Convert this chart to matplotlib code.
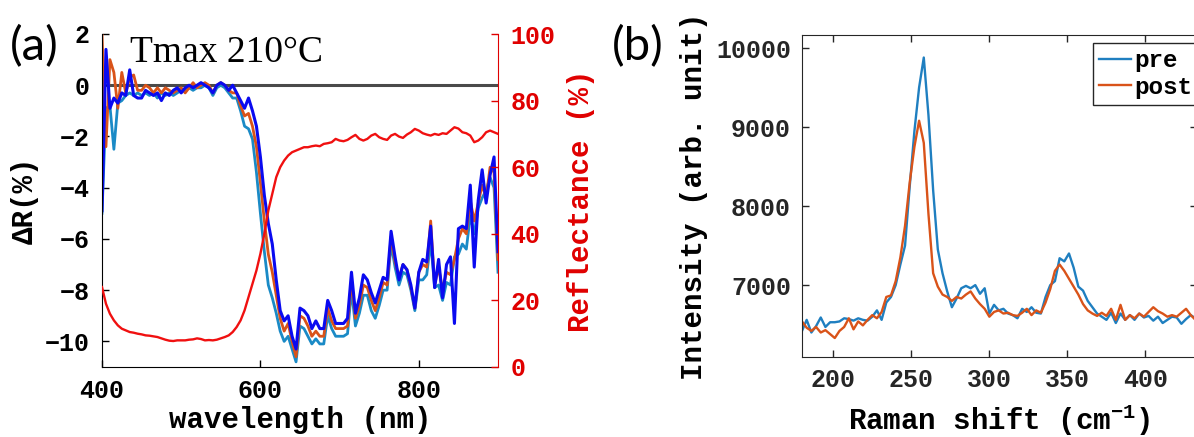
import matplotlib
matplotlib.use("Agg")
import matplotlib.pyplot as plt
import numpy as np

# ---- panel (a): differential reflectance spectra ----
wavelength = np.arange(400, 905, 5)

dr_light = [-5.0, -0.9, -0.8, -2.5, -0.7, -0.6, -0.4, -0.3, -0.4, -0.3,
            -0.4, -0.3, -0.4, -0.3, -0.5, -0.3, -0.4, -0.3, -0.4, -0.3,
            -0.2, -0.2, -0.1, -0.2, -0.1, -0.1, 0.0, -0.1, -0.4, -0.1,
            0.0, -0.1, -0.3, -0.5, -0.5, -1.0, -1.6, -1.7, -2.1, -3.4,
            -5.0, -6.5, -7.8, -8.3, -8.9, -9.6, -10.0, -9.8, -10.3, -10.8,
            -9.4, -9.5, -9.8, -10.1, -9.9, -10.1, -10.1, -9.0, -9.5, -9.8,
            -9.8, -9.8, -9.7, -8.0, -9.4, -8.9, -8.2, -8.2, -8.8, -9.1,
            -8.6, -8.0, -8.0, -6.2, -7.1, -7.8, -7.3, -7.4, -8.0, -8.8,
            -7.6, -7.6, -7.4, -6.1, -7.9, -7.8, -8.4, -7.7, -7.8, -6.7,
            -6.6, -6.2, -6.4, -5.1, -5.8, -4.8, -4.4, -4.1, -3.6, -4.0,
            -7.3]

dr_orange = [2.0, -2.4, 1.0, 0.5, -0.9, 0.5, -0.3, 0.3, 0.4, -0.2,
             -0.2, 0.0, -0.1, -0.3, -0.1, -0.3, -0.1, -0.2, -0.3, -0.2,
             -0.1, -0.3, -0.1, 0.1, -0.1, 0.0, 0.1, 0.0, -0.3, 0.0,
             0.1, 0.0, -0.2, -0.3, -0.3, -0.8, -1.2, -1.1, -1.6, -2.4,
             -3.8, -5.3, -6.6, -7.3, -8.2, -9.1, -9.6, -9.3, -10.0, -10.6,
             -9.0, -9.1, -9.4, -9.8, -9.6, -9.8, -9.8, -8.7, -9.2, -9.5,
             -9.5, -9.5, -9.4, -7.6, -9.1, -8.6, -7.8, -7.9, -8.4, -8.8,
             -8.3, -7.7, -7.8, -5.9, -6.9, -7.5, -7.0, -7.2, -7.9, -8.7,
             -7.3, -7.0, -7.1, -5.3, -7.8, -7.1, -8.0, -7.3, -7.4, -6.8,
             -6.0, -5.6, -5.8, -4.5, -5.3, -4.6, -3.9, -4.4, -3.2, -3.4,
             -6.8]

dr_dark = [-4.9, 1.4, -0.9, -0.5, -0.7, -0.3, -0.4, 0.6, -0.4, -0.5,
           -0.5, -0.2, -0.3, -0.4, -0.3, -0.6, -0.3, -0.4, -0.2, -0.1,
           -0.3, -0.1, 0.0, -0.1, 0.0, 0.1, 0.0, -0.1, -0.3, 0.0,
           0.1, 0.0, -0.2, 0.0, -0.3, -0.6, -0.9, -0.5, -1.0, -1.6,
           -2.8, -4.3, -5.4, -6.2, -7.6, -8.8, -9.2, -9.0, -9.8, -10.3,
           -8.7, -8.8, -9.0, -9.5, -9.2, -9.5, -9.5, -8.4, -8.8, -9.3,
           -9.3, -9.3, -9.1, -7.3, -8.9, -8.3, -7.4, -7.6, -8.1, -8.5,
           -8.0, -7.5, -7.6, -5.7, -6.7, -7.6, -7.0, -7.2, -7.8, -8.7,
           -7.3, -6.8, -6.9, -5.5, -7.9, -6.8, -8.3, -7.0, -6.7, -9.3,
           -5.6, -5.5, -5.6, -3.9, -7.1, -4.5, -3.3, -4.6, -3.5, -2.8,
           -6.5]

reflectance = [24, 19, 16, 14, 12.5, 11.5, 11, 10.5, 10.3, 10,
               9.8, 9.5, 9.4, 9.2, 9.0, 8.6, 8.2, 7.9, 7.8, 8.0,
               8.0, 8.0, 8.2, 8.3, 8.6, 8.4, 8.0, 8.1, 8.0, 8.2,
               8.6, 9.0, 9.5, 10.5, 12, 14, 17, 21, 25, 29,
               34, 40, 47, 52, 57, 60, 62, 63.5, 64.5, 65,
               65.5, 66, 66, 66.3, 66.5, 66.3, 67, 67.2, 67.5, 68.5,
               68, 67.8, 68.2, 69, 69.7, 68.5, 68, 68.5, 69.5, 70,
               69, 68.5, 68.2, 69.5, 70, 69.2, 68.8, 69.8, 70.5, 71.5,
               71, 70.2, 69.8, 69.5, 70, 69.7, 70.2, 70, 71, 72,
               71.6, 70.5, 70.2, 69.5, 67.5, 68, 69, 70.5, 71, 70.5,
               70]

# ---- panel (b): Raman spectra ----
raman_shift = np.arange(180, 453, 3)

pre = [6420, 6560, 6400, 6480, 6590, 6470, 6530, 6530, 6540, 6580,
       6570, 6550, 6580, 6560, 6550, 6600, 6680, 6560, 6780, 6850,
       7000, 7260, 7500, 8250, 8950, 9500, 9880, 9150, 8200, 7450,
       7150, 6920, 6720, 6830, 6960, 6990, 6960, 7000, 6890, 6960,
       6640, 6750, 6680, 6700, 6640, 6620, 6580, 6700, 6660, 6720,
       6650, 6640, 6850, 7000, 7050, 7340, 7300, 7400, 7220, 6980,
       6930, 6800, 6720, 6640, 6600, 6560, 6650, 6520, 6640, 6560,
       6620, 6560, 6640, 6590, 6610, 6550, 6600, 6520, 6560, 6600,
       6590, 6510, 6570, 6620, 6580, 6560, 6610, 6560, 6600, 6580,
       6600]

post = [6540, 6460, 6420, 6470, 6400, 6430, 6380, 6330, 6420, 6470,
        6580, 6440, 6540, 6490, 6560, 6620, 6580, 6660, 6850, 6870,
        7050, 7350, 7750, 8300, 8750, 9080, 8800, 7900, 7150, 6980,
        6880, 6850, 6800, 6850, 6830, 6880, 6920, 6830, 6760, 6700,
        6600, 6660, 6680, 6640, 6650, 6620, 6610, 6650, 6700, 6620,
        6680, 6650, 6780, 6950, 7180, 7260, 7180, 7080, 6980, 6880,
        6760, 6680, 6640, 6610, 6650, 6610, 6700, 6560, 6750, 6560,
        6620, 6580, 6640, 6600, 6660, 6720, 6670, 6640, 6600, 6620,
        6600, 6650, 6700, 6620, 6560, 6600, 6650, 6610, 6620, 6600,
        6620]

plt.rcParams['font.family'] = ['Liberation Mono', 'DejaVu Sans Mono']
plt.rcParams['font.weight'] = 'bold'
plt.rcParams['axes.labelweight'] = 'bold'
plt.rcParams['mathtext.default'] = 'regular'

W, H = 1194, 437
fig = plt.figure(figsize=(W / 100, H / 100), dpi=100)

# panel (a)
ax1 = fig.add_axes([102 / W, 70 / H, 396 / W, 333 / H])
ax1.axhline(0, color='#4a4a4a', lw=2.2, zorder=1)
ax1.plot(wavelength, dr_light, color='#1a8ac6', lw=2.0)
ax1.plot(wavelength, dr_orange, color='#d95319', lw=2.0)
ax1.plot(wavelength, dr_dark, color='#0a0af0', lw=2.2)
ax1.set_xlim(400, 900)
ax1.set_ylim(-11, 2)
ax1.set_xticks([400, 600, 800])
ax1.set_yticks(range(-10, 3, 2))
ax1.tick_params(direction='in', length=5, width=1, labelsize=18, pad=9)
ax1.spines['top'].set_visible(False)
ax1.spines['right'].set_visible(False)
ax1.set_xlabel('wavelength (nm)', fontsize=21, labelpad=2)
ax1.set_ylabel('ΔR(%)', fontsize=21, labelpad=4)

ax2 = ax1.twinx()
ax2.plot(wavelength, reflectance, color='#f01010', lw=1.7)
ax2.set_ylim(0, 100)
ax2.set_yticks(range(0, 101, 20))
ax2.tick_params(direction='in', length=5, width=1, labelsize=18, pad=9,
                colors='#e00000')
for s in ['top', 'left', 'bottom']:
    ax2.spines[s].set_visible(False)
ax2.spines['right'].set_color('#e00000')
ax2.set_ylabel('Reflectance (%)', fontsize=21, color='#e00000', labelpad=8)

fig.text(10 / W, 1 - 47 / H, '(a)', fontsize=34, family='Lato',
         weight='normal', va='center')
fig.text(130 / W, 1 - 62 / H, 'Tmax 210°C', fontsize=27,
         family='Liberation Serif', weight='normal', va='baseline')

# panel (b)
ax3 = fig.add_axes([802 / W, 80 / H, 395 / W, 322 / H])
ax3.plot(raman_shift, pre, color='#1f7fc0', lw=1.7, label='pre')
ax3.plot(raman_shift, post, color='#d95319', lw=1.7, label='post')
ax3.set_xlim(180, 433)
ax3.set_ylim(6090, 10165)
ax3.set_xticks(range(200, 401, 50))
ax3.set_yticks(range(7000, 10001, 1000))
ax3.tick_params(direction='in', length=5, width=1, labelsize=18, pad=8,
                top=True, right=True, colors='#262626')
for s in ax3.spines.values():
    s.set_color('#262626')
ax3.set_xlabel('Raman shift (cm$^{-1}$)', fontsize=21, labelpad=8)
ax3.set_ylabel('Intensity (arb. unit)', fontsize=21, labelpad=6)
leg = ax3.legend(loc='upper left', bbox_to_anchor=(1093 / W, 1 - 43 / H),
                 bbox_transform=fig.transFigure, fancybox=False,
                 edgecolor='#262626', framealpha=1, borderaxespad=0,
                 handlelength=1.3, handletextpad=0.15, borderpad=0.25,
                 labelspacing=0.15, prop={'size': 17.5, 'weight': 'bold'})
leg.get_frame().set_linewidth(1)

fig.text(612 / W, 1 - 47 / H, '(b)', fontsize=34, family='Lato',
         weight='normal', va='center')

fig.savefig('out.png', dpi=100)
